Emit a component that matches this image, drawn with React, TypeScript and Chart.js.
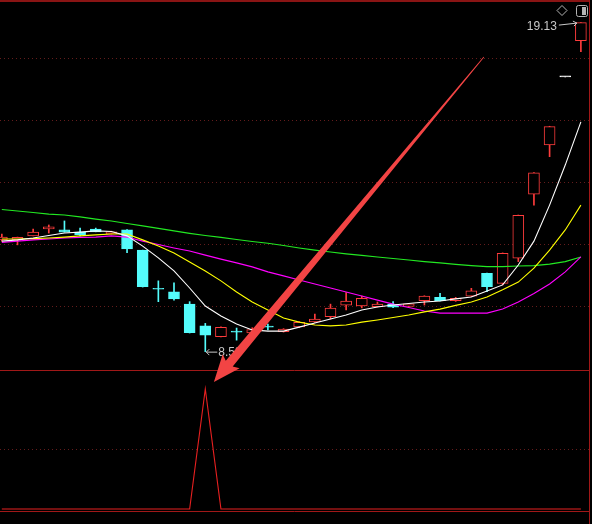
import { useEffect, useRef } from "react";
import { Chart, registerables } from "chart.js";

Chart.register(...registerables);

// Daily bars: open / high / low / close
const OPEN = [
  12.13, 12.13, 12.26, 12.48, 12.45, 12.38, 12.48, 12.32, 12.45, 11.8,
  10.56, 10.46, 10.06, 9.36, 9.01, 9.18, 9.13, 9.34, 9.17, 9.33,
  9.49, 9.66, 10.03, 10.0, 9.98, 10.05, 9.99, 10.17, 10.28, 10.17,
  10.32, 11.05, 10.73, 11.54, 13.6, 15.19, 17.38, 18.55,
];
const HIGH = [
  12.32, 12.22, 12.48, 12.61, 12.74, 12.51, 12.51, 12.41, 12.46, 11.8,
  10.81, 10.75, 10.14, 9.44, 9.33, 9.29, 9.3, 9.42, 9.27, 9.5,
  9.74, 10.06, 10.43, 10.32, 10.13, 10.14, 10.08, 10.33, 10.41, 10.28,
  10.57, 11.06, 11.71, 12.93, 14.3, 15.79, 17.38, 19.13,
];
const LOW = [
  12.09, 11.97, 12.26, 12.35, 12.38, 12.26, 12.39, 12.32, 11.72, 10.61,
  10.14, 10.19, 9.13, 8.53, 9.0, 8.9, 9.12, 9.23, 9.16, 9.3,
  9.47, 9.58, 9.87, 9.94, 9.97, 9.95, 9.97, 10.03, 10.16, 10.15,
  10.3, 10.46, 10.68, 11.43, 13.25, 14.81, 17.38, 18.19,
];
const CLOSE = [
  12.22, 12.21, 12.38, 12.55, 12.38, 12.3, 12.39, 12.39, 11.84, 10.62,
  10.54, 10.23, 9.14, 9.06, 9.31, 9.16, 9.24, 9.32, 9.26, 9.47,
  9.58, 9.93, 10.16, 10.25, 10.06, 9.96, 10.07, 10.32, 10.17, 10.25,
  10.49, 10.62, 11.7, 12.92, 14.29, 15.78, 17.38, 19.13,
];

// Moving averages
const MA5 = [
  12.09, 12.13, 12.19, 12.27, 12.35, 12.38, 12.42, 12.4, 12.26, 11.93,
  11.55, 11.13, 10.58, 10.0, 9.68, 9.42, 9.23, 9.19, 9.19, 9.32,
  9.45, 9.58, 9.71, 9.87, 9.97, 10.03, 10.08, 10.13, 10.16, 10.23,
  10.29, 10.48, 10.68, 11.32, 12.09, 13.25, 14.54, 15.93,
];
const MA10 = [
  12.16, 12.16, 12.17, 12.19, 12.22, 12.26, 12.29, 12.32, 12.32, 12.13,
  11.93, 11.71, 11.42, 11.13, 10.81, 10.45, 10.13, 9.87, 9.61, 9.48,
  9.39, 9.36, 9.39, 9.48, 9.55, 9.63, 9.71, 9.81, 9.9, 10.02,
  10.13, 10.29, 10.52, 10.77, 11.22, 11.8, 12.45, 13.25,
];
const MA20 = [
  12.05, 12.09, 12.13, 12.16, 12.19, 12.21, 12.22, 12.26, 12.22, 12.09,
  11.98, 11.87, 11.77, 11.64, 11.51, 11.39, 11.26, 11.1, 10.97, 10.84,
  10.71, 10.58, 10.45, 10.32, 10.19, 10.06, 9.95, 9.84, 9.77, 9.77,
  9.77, 9.77, 9.9, 10.13, 10.4, 10.71, 11.1, 11.58,
];
const MA60 = [
  13.11, 13.06, 13.01, 12.96, 12.93, 12.87, 12.8, 12.74, 12.66, 12.58,
  12.5, 12.42, 12.34, 12.27, 12.21, 12.14, 12.08, 12.02, 11.95, 11.87,
  11.8, 11.74, 11.68, 11.63, 11.58, 11.53, 11.48, 11.43, 11.39, 11.34,
  11.3, 11.27, 11.27, 11.29, 11.3, 11.35, 11.43, 11.58,
];

// Bottom-signal indicator (fires on the bar that makes the low)
const SIGNAL = [
  0, 0, 0, 0, 0, 0, 0, 0, 0, 0,
  0, 0, 0, 1, 0, 0, 0, 0, 0, 0,
  0, 0, 0, 0, 0, 0, 0, 0, 0, 0,
  0, 0, 0, 0, 0, 0, 0, 0,
];

const PRICE_GRID = [10, 12, 14, 16, 18];
const SIGNAL_GRID = [0.5];

// Annotation arrow, in (bar index, price) space
const ARROW_TAIL = { x: 30.8, y: 18.02 };
const ARROW_TIP = { x: 13.55, y: 7.55 };

// Axis windows: the price pane fills the top, the signal pane the bottom
const X_MIN = -0.118;
const X_MAX = 37.71;
const PRICE_MIN = 2.977;
const PRICE_MAX = 19.858;
const PANE_FLOOR = 7.938; // price at the pane divider
const SIGNAL_MIN = -0.125;
const SIGNAL_MAX = 4.2417;

const UP = "#ff3c3c";
const DOWN = "#54fcfc";
const FLAT = "#ffffff";
const FRAME = "#a01818";
const GRID = "#641c1c";
const LABEL = "#c8c8c8";

const colorOf = (i: number) =>
  CLOSE[i] > OPEN[i] ? UP : CLOSE[i] < OPEN[i] ? DOWN : FLAT;

const toPoints = (arr: number[]) => arr.map((v, i) => ({ x: i, y: v }));

const chrome = {
  id: "chrome",
  beforeDraw(chart: any) {
    const { ctx, width, height } = chart;
    ctx.save();
    ctx.fillStyle = "#000";
    ctx.fillRect(0, 0, width, height);
    ctx.restore();
  },
  beforeDatasetsDraw(chart: any) {
    const { ctx, scales } = chart;
    const right = 589;
    ctx.save();
    ctx.lineWidth = 1;
    ctx.strokeStyle = GRID;
    ctx.setLineDash([1, 3]);
    for (const v of PRICE_GRID) {
      const py = Math.round(scales.y.getPixelForValue(v)) + 0.5;
      ctx.beginPath();
      ctx.moveTo(0, py);
      ctx.lineTo(right, py);
      ctx.stroke();
    }
    for (const v of SIGNAL_GRID) {
      const py = Math.round(scales.y2.getPixelForValue(v)) + 0.5;
      ctx.beginPath();
      ctx.moveTo(0, py);
      ctx.lineTo(right, py);
      ctx.stroke();
    }
    ctx.setLineDash([]);
    // pane frame
    ctx.strokeStyle = FRAME;
    const divider = Math.round(scales.y.getPixelForValue(PANE_FLOOR)) + 0.5;
    ctx.beginPath();
    ctx.moveTo(0, divider);
    ctx.lineTo(right, divider);
    ctx.moveTo(0, 511.5);
    ctx.lineTo(right, 511.5);
    ctx.moveTo(right + 0.5, 0);
    ctx.lineTo(right + 0.5, chart.height);
    ctx.stroke();
    ctx.lineWidth = 2;
    ctx.strokeStyle = "#8a1414";
    ctx.beginPath();
    ctx.moveTo(0, 1);
    ctx.lineTo(right, 1);
    ctx.stroke();
    ctx.restore();
  },
  afterDraw(chart: any) {
    const { ctx, scales } = chart;
    const xs = scales.x;
    const ys = scales.y;
    ctx.save();
    ctx.font = "12px 'Liberation Sans', Arial, sans-serif";
    ctx.fillStyle = LABEL;
    ctx.strokeStyle = LABEL;
    ctx.lineWidth = 1;

    // highest high label
    let hi = 0;
    HIGH.forEach((v, i) => { if (v > HIGH[hi]) hi = i; });
    const hx = xs.getPixelForValue(hi);
    const hy = ys.getPixelForValue(HIGH[hi]);
    ctx.textAlign = "right";
    ctx.textBaseline = "middle";
    ctx.fillText(HIGH[hi].toFixed(2), hx - 24, hy + 4);
    ctx.beginPath();
    ctx.moveTo(hx - 22, hy + 2.5);
    ctx.lineTo(hx - 4, hy + 0.5);
    ctx.stroke();
    ctx.beginPath();
    ctx.moveTo(hx - 8, hy - 1.5);
    ctx.lineTo(hx - 4, hy + 0.5);
    ctx.lineTo(hx - 7, hy + 3.5);
    ctx.stroke();

    // lowest low label
    let lo = 0;
    LOW.forEach((v, i) => { if (v < LOW[lo]) lo = i; });
    const lx = xs.getPixelForValue(lo);
    const ly = ys.getPixelForValue(LOW[lo]);
    ctx.beginPath();
    ctx.moveTo(lx + 1, ly + 0.5);
    ctx.lineTo(lx + 12, ly + 0.5);
    ctx.moveTo(lx + 4, ly - 2.5);
    ctx.lineTo(lx + 1, ly + 0.5);
    ctx.lineTo(lx + 4, ly + 3.5);
    ctx.stroke();
    ctx.textAlign = "left";
    ctx.fillText(LOW[lo].toFixed(2), lx + 13, ly + 1);

    // toolbar glyphs
    ctx.strokeStyle = "#b4b4b4";
    ctx.beginPath();
    ctx.moveTo(562, 5.5);
    ctx.lineTo(567, 10.5);
    ctx.lineTo(562, 15.5);
    ctx.lineTo(557, 10.5);
    ctx.closePath();
    ctx.stroke();
    ctx.beginPath();
    ctx.roundRect(576.5, 5.5, 11, 11, 2);
    ctx.stroke();
    ctx.fillStyle = "#b4b4b4";
    ctx.fillRect(582, 7, 4, 8);

    // annotation arrow
    const tx = xs.getPixelForValue(ARROW_TAIL.x);
    const ty = ys.getPixelForValue(ARROW_TAIL.y);
    const px = xs.getPixelForValue(ARROW_TIP.x);
    const py = ys.getPixelForValue(ARROW_TIP.y);
    const dx = px - tx;
    const dy = py - ty;
    const len = Math.hypot(dx, dy);
    const ux = dx / len;
    const uy = dy / len;
    const nx = -uy;
    const ny = ux;
    const headLen = 24;
    const headHalf = 11;
    const neckHalf = 4.5;
    const tailHalf = 0.4;
    const bx = px - ux * headLen;
    const by = py - uy * headLen;
    ctx.fillStyle = "#f24444";
    ctx.beginPath();
    ctx.moveTo(tx + nx * tailHalf, ty + ny * tailHalf);
    ctx.lineTo(bx + nx * neckHalf, by + ny * neckHalf);
    ctx.lineTo(bx + nx * headHalf - ux * 3, by + ny * headHalf - uy * 3);
    ctx.lineTo(px, py);
    ctx.lineTo(bx - nx * headHalf - ux * 3, by - ny * headHalf - uy * 3);
    ctx.lineTo(bx - nx * neckHalf, by - ny * neckHalf);
    ctx.lineTo(tx - nx * tailHalf, ty - ny * tailHalf);
    ctx.closePath();
    ctx.fill();
    ctx.restore();
  },
};

export default function App() {
  const ref = useRef<HTMLCanvasElement>(null);

  useEffect(() => {
    if (!ref.current) return;
    const idx = OPEN.map((_, i) => i);
    const colors = idx.map(colorOf);
    const bodyFill = idx.map((i) => (CLOSE[i] > OPEN[i] ? "#000000" : colorOf(i)));
    const bodies = idx.map((i) => ({ x: i, y: [OPEN[i], CLOSE[i]] }));
    const wicks = idx.map((i) => ({ x: i, y: [LOW[i], HIGH[i]] }));

    const line = (label: string, data: number[], color: string, axis = "y") => ({
      type: "line" as const,
      label,
      data: toPoints(data),
      borderColor: color,
      borderWidth: 1.1,
      pointRadius: 0,
      tension: 0,
      yAxisID: axis,
      order: 0,
    });

    const chart = new Chart(ref.current, {
      type: "bar",
      data: {
        datasets: [
          line("MA5", MA5, "#ffffff"),
          line("MA10", MA10, "#ffff00"),
          line("MA20", MA20, "#ff00ff"),
          line("MA60", MA60, "#22e822"),
          line("信号", SIGNAL, "#e82020", "y2"),
          {
            type: "bar",
            label: "K线实体",
            data: bodies as any,
            backgroundColor: bodyFill,
            borderColor: colors,
            borderWidth: 1,
            borderSkipped: false,
            barThickness: 11,
            minBarLength: 1,
            grouped: false,
            yAxisID: "y",
            order: 1,
          },
          {
            type: "bar",
            label: "K线影线",
            data: wicks as any,
            backgroundColor: colors,
            borderWidth: 0,
            barThickness: 1,
            grouped: false,
            yAxisID: "y",
            order: 2,
          },
        ],
      },
      options: {
        responsive: false,
        animation: false,
        devicePixelRatio: 1,
        events: [],
        layout: { padding: 0 },
        plugins: {
          legend: { display: false },
          tooltip: { enabled: false },
        },
        scales: {
          x: { type: "linear", min: X_MIN, max: X_MAX, offset: false, display: false },
          y: { type: "linear", min: PRICE_MIN, max: PRICE_MAX, display: false },
          y2: { type: "linear", min: SIGNAL_MIN, max: SIGNAL_MAX, display: false },
        },
      },
      plugins: [chrome],
    });
    return () => chart.destroy();
  }, []);

  return (
    <div
      style={{
        position: "fixed",
        left: 0,
        top: 0,
        width: 592,
        height: 524,
        background: "#000",
      }}
    >
      <canvas ref={ref} width={592} height={524} style={{ display: "block", width: 592, height: 524 }} />
    </div>
  );
}
